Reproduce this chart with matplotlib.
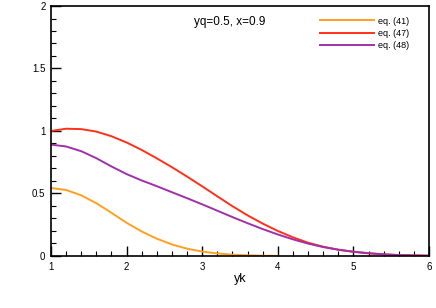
import matplotlib
matplotlib.use("Agg")
import matplotlib.pyplot as plt
from matplotlib.ticker import MultipleLocator

# data (step 0.2 in yk)
yk = [1.0, 1.2, 1.4, 1.6, 1.8, 2.0, 2.2, 2.4, 2.6, 2.8, 3.0, 3.2, 3.4,
      3.6, 3.8, 4.0, 4.2, 4.4, 4.6, 4.8, 5.0, 5.2, 5.4, 5.6, 5.8, 6.0]
eq41 = [0.544, 0.528, 0.485, 0.422, 0.345, 0.265, 0.196, 0.138, 0.092, 0.058,
        0.035, 0.020, 0.010, 0.005, 0.002, 0.001]
eq47 = [1.000, 1.018, 1.015, 0.995, 0.958, 0.908, 0.848, 0.781, 0.710, 0.635,
        0.557, 0.477, 0.398, 0.325, 0.259, 0.200, 0.149, 0.106, 0.074, 0.050,
        0.033, 0.021, 0.013, 0.007, 0.004, 0.002]
eq48 = [0.891, 0.876, 0.838, 0.782, 0.716, 0.655, 0.604, 0.558, 0.510, 0.462,
        0.413, 0.362, 0.311, 0.262, 0.215, 0.172, 0.133, 0.099, 0.071, 0.050,
        0.034, 0.022, 0.013, 0.007, 0.004, 0.002]

plt.rcParams['font.family'] = ['Liberation Sans', 'DejaVu Sans']

fig = plt.figure(figsize=(4.36, 3.08), dpi=100)
ax = fig.add_axes([0.117, 0.169, 0.867, 0.8115])

style = dict(lw=1.4, solid_joinstyle='round')
ax.plot(yk[:len(eq41)], eq41, color='#FFA020', label='eq. (41)', **style)
ax.plot(yk, eq47, color='#FF3018', label='eq. (47)', **style)
ax.plot(yk, eq48, color='#A030A8', label='eq. (48)', **style)

ax.set_xlim(1, 6)
ax.set_ylim(0, 2)
ax.xaxis.set_major_locator(MultipleLocator(1))
ax.xaxis.set_minor_locator(MultipleLocator(0.2))
ax.yaxis.set_major_locator(MultipleLocator(0.5))
ax.yaxis.set_minor_locator(MultipleLocator(0.1))
ax.yaxis.set_major_formatter(plt.FuncFormatter(lambda v, p: f"{v:g}"))
ax.tick_params(which='major', direction='in', length=7, width=1, labelsize=7, pad=4)
ax.tick_params(which='minor', direction='in', length=3.5, width=0.8)
for s in ax.spines.values():
    s.set_linewidth(1.2)

ax.set_xlabel('yk', fontsize=9, labelpad=1)
ax.text(0.378, 0.936, 'yq=0.5, x=0.9', transform=ax.transAxes, fontsize=8.5,
        ha='left', va='center')
ax.legend(loc='upper right', bbox_to_anchor=(0.97, 0.99), frameon=False,
          fontsize=6.5, handlelength=6, labelspacing=0.38, handletextpad=0.5)

fig.savefig('out.png', dpi=100)
